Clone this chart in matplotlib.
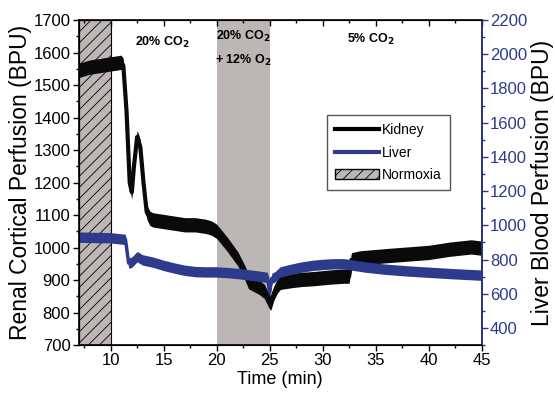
import matplotlib
matplotlib.use("Agg")
import matplotlib.pyplot as plt
from matplotlib.patches import Patch
from matplotlib.lines import Line2D, TICKDOWN
import numpy as np

plt.rcParams["font.family"] = ["Liberation Sans", "DejaVu Sans"]
plt.rcParams["hatch.linewidth"] = 0.6

# time points (min) and perfusion (BPU, left-axis units)
kid_t = [7, 8, 9, 10, 11, 11.2, 11.5, 11.8, 12.0, 12.2, 12.5, 12.8, 13.1, 13.4,
         13.7, 14, 15, 16, 17, 18, 19, 19.5, 20, 21, 22, 22.7, 23, 24, 24.5,
         24.9, 25.1, 25.4, 25.7, 26, 27, 28, 29, 30, 31, 32, 32.5, 32.7, 33.5,
         36, 38, 40, 42, 44, 45]
kid_v = [1545, 1555, 1560, 1565, 1570, 1560, 1420, 1200, 1170, 1250, 1340,
         1310, 1200, 1110, 1090, 1085, 1080, 1075, 1070, 1070, 1065, 1060,
         1050, 1010, 965, 920, 895, 878, 865, 838, 828, 860, 880, 893, 898,
         902, 904, 907, 910, 912, 912, 962, 968, 975, 980, 985, 995, 1002, 998]
kid_noise = 22

# liver trace, converted to left-axis units
liv_t = [7, 10, 11.4, 11.7, 12, 12.5, 13, 14, 15, 16, 17, 18, 19, 20, 21, 22,
         23, 24, 24.8, 25, 25.2, 25.5, 26, 27, 28, 29, 30, 31, 32, 33, 34, 36,
         38, 40, 42, 45]
liv_v = [1032, 1030, 1025, 952, 955, 972, 962, 955, 945, 937, 930, 926, 925,
         925, 923, 920, 916, 912, 908, 862, 905, 910, 925, 933, 940, 945, 948,
         950, 950, 945, 940, 933, 928, 924, 920, 915]
liv_noise = 16

normoxia = (7, 10)
hypoxia = (20, 25)

blue = "#2e3a8c"
grey = "#bcb7b5"

fig = plt.figure(figsize=(5.55, 3.93), dpi=100)
ax = fig.add_axes([0.142, 0.122, 0.726, 0.827])

ax.axvspan(*normoxia, facecolor=grey, edgecolor="black", hatch="///", lw=0.8, zorder=1)
ax.axvspan(*hypoxia, facecolor=grey, edgecolor="none", zorder=1)

# dense grid just for drawing the noise band between read points
tt = np.linspace(7, 45, 800)
kk = np.interp(tt, kid_t, kid_v)
ll = np.interp(tt, liv_t, liv_v)
ax.fill_between(tt, kk - kid_noise, kk + kid_noise, color="#0a0a0a", lw=0, zorder=3)
ax.plot(kid_t, kid_v, color="#0a0a0a", lw=3, zorder=3)
ax.fill_between(tt, ll - liv_noise, ll + liv_noise, color=blue, lw=0, zorder=4)
ax.plot(liv_t, liv_v, color=blue, lw=2.5, zorder=4)

ax.set_xlim(7, 45)
ax.set_ylim(700, 1700)
ax.set_xticks([10, 15, 20, 25, 30, 35, 40, 45])
ax.set_xticks(np.arange(7.5, 45, 2.5), minor=True)
ax.set_yticks(range(700, 1701, 100))
ax.set_yticks(range(750, 1700, 100), minor=True)
ax.tick_params(axis="both", labelsize=12, direction="out", length=4, width=1, pad=2)
ax.tick_params(axis="both", which="minor", direction="out", length=2.5, width=1)
ax.tick_params(axis="x", top=True, which="both")
ax.set_xlabel("Time (min)", fontsize=13, labelpad=2)
ax.set_ylabel("Renal Cortical Perfusion (BPU)", fontsize=16.5, labelpad=1)
for s in ax.spines.values():
    s.set_linewidth(1.2)

# top ticks point inward
for tk in ax.xaxis.get_major_ticks() + ax.xaxis.get_minor_ticks():
    tk.tick2line.set_marker(TICKDOWN)

ax2 = ax.twinx()
ax2.set_ylim(300, 2200)
ax2.set_yticks(range(400, 2201, 200))
ax2.set_yticks(range(300, 2200, 100), minor=True)
ax2.tick_params(axis="y", colors=blue, labelsize=12, length=4, width=1, pad=2)
ax2.tick_params(axis="y", which="minor", colors=blue, length=2.5, width=1)
ax2.spines["right"].set_color(blue)
ax2.spines["right"].set_linewidth(1.2)
ax2.set_ylabel("Liver Blood Perfusion (BPU)", fontsize=16.5, labelpad=3)

tfont = dict(ha="center", va="center", fontsize=9, fontweight="bold")
ax.text(14.9, 1630, "20% CO$_\\mathbf{2}$", **tfont)
ax.text(22.5, 1650, "20% CO$_\\mathbf{2}$", **tfont)
ax.text(22.5, 1577, "+ 12% O$_\\mathbf{2}$", **tfont)
ax.text(34.5, 1640, "5% CO$_\\mathbf{2}$", **tfont)

handles = [Line2D([], [], color="black", lw=3),
           Line2D([], [], color=blue, lw=3),
           Patch(facecolor=grey, edgecolor="black", hatch="///")]
leg = ax.legend(handles, ["Kidney", "Liver", "Normoxia"], loc="upper left",
                bbox_to_anchor=(0.615, 0.708), borderaxespad=0, fontsize=10,
                fancybox=False, framealpha=1, edgecolor="#555555",
                handlelength=3.2, handletextpad=0.2, borderpad=0.6,
                labelspacing=0.6)
leg.set_zorder(10)

fig.savefig("out.png", dpi=100)
